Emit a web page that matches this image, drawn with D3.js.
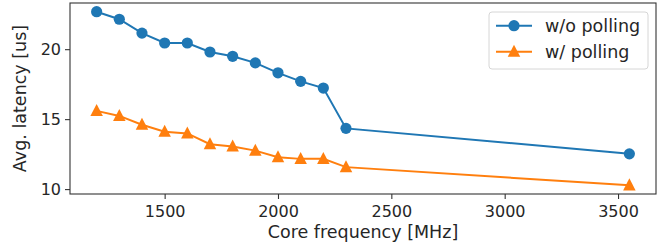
<!DOCTYPE html>
<html>
<head>
<meta charset="utf-8">
<script src="https://cdn.jsdelivr.net/npm/d3@7"></script>
<style>
    body { margin: 0; background: #fff; }
    svg { display: block; }
    text { font-family: "DejaVu Sans", sans-serif; fill: #262626; }
</style>
</head>
<body>
<svg id="chart" width="662" height="248"></svg>
<script>
// values
var freqs = [1200, 1300, 1400, 1500, 1600, 1700, 1800, 1900, 2000, 2100, 2200, 2300, 3550];
var noPolling = [22.68, 22.14, 21.15, 20.44, 20.44, 19.80, 19.49, 19.02, 18.31, 17.70, 17.22, 14.34, 12.52];
var withPolling = [15.59, 15.23, 14.60, 14.10, 13.98, 13.21, 13.04, 12.75, 12.28, 12.16, 12.16, 11.57, 10.27];
var seriesNames = ['w/o polling', 'w/ polling'];
var xTicks = [1500, 2000, 2500, 3000, 3500];
var yTicks = [10, 15, 20];

var svg = d3.select('#chart');
var plotLeft = 70, plotRight = 656, plotTop = 3, plotBottom = 194;
var tickFont = 16;
var labelFont = 17.5;

// matplotlib style 5% margins
var pad = function(ext)
{
    var d = (ext[1] - ext[0]) * 0.05;
    return [ext[0] - d, ext[1] + d];
};

var x = d3.scaleLinear().domain(pad(d3.extent(freqs))).range([plotLeft, plotRight]);
var y = d3.scaleLinear().domain(pad(d3.extent(noPolling.concat(withPolling)))).range([plotBottom, plotTop]);

var series = [
    { name: seriesNames[0], values: noPolling, color: '#1f77b4', marker: 'circle' },
    { name: seriesNames[1], values: withPolling, color: '#ff7f0e', marker: 'triangle' }
];

var xAxis = svg.append('g')
    .attr('transform', 'translate(0,' + plotBottom + ')')
    .call(d3.axisBottom(x).tickValues(xTicks).tickSize(5).tickPadding(7).tickFormat(d3.format('d')));
var yAxis = svg.append('g')
    .attr('transform', 'translate(' + plotLeft + ',0)')
    .call(d3.axisLeft(y).tickValues(yTicks).tickSize(5).tickPadding(4).tickFormat(d3.format('d')));

[xAxis, yAxis].forEach(function(ax)
{
    ax.select('.domain').remove();
    ax.selectAll('line').attr('stroke', '#333').attr('stroke-width', 1.1);
    ax.selectAll('text').attr('font-size', tickFont).attr('font-family', null).style('fill', '#262626');
});

// frame
svg.append('rect')
    .attr('x', plotLeft).attr('y', plotTop)
    .attr('width', plotRight - plotLeft).attr('height', plotBottom - plotTop)
    .attr('fill', 'none').attr('stroke', '#333').attr('stroke-width', 1.1);

var line = d3.line()
    .x(function(d) { return x(d[0]); })
    .y(function(d) { return y(d[1]); });

var triangle = function(cx, cy, s)
{
    var h = s * 0.9;
    return 'M' + cx + ',' + (cy - h * 0.62) + 'L' + (cx + s / 2) + ',' + (cy + h * 0.45) + 'L' + (cx - s / 2) + ',' + (cy + h * 0.45) + 'Z';
};

var drawMarker = function(g, s, cx, cy)
{
    if(s.marker == 'circle')
    {
        g.append('circle').attr('cx', cx).attr('cy', cy).attr('r', 5.6).attr('fill', s.color);
    }
    else
    {
        g.append('path').attr('d', triangle(cx, cy, 12.5)).attr('fill', s.color);
    }
};

series.forEach(function(s)
{
    var pts = freqs.map(function(f, i) { return [f, s.values[i]]; });
    var g = svg.append('g');
    g.append('path')
        .attr('d', line(pts))
        .attr('fill', 'none')
        .attr('stroke', s.color)
        .attr('stroke-width', 2);
    pts.forEach(function(p)
    {
        drawMarker(g, s, x(p[0]), y(p[1]));
    });
});

// axis labels
svg.append('text')
    .attr('x', (plotLeft + plotRight) / 2)
    .attr('y', 238)
    .attr('text-anchor', 'middle')
    .attr('font-size', labelFont)
    .text('Core frequency [MHz]');

svg.append('text')
    .attr('transform', 'translate(26,' + ((plotTop + plotBottom) / 2) + ') rotate(-90)')
    .attr('text-anchor', 'middle')
    .attr('font-size', labelFont)
    .text('Avg. latency [us]');

// legend
var legend = svg.append('g');
legend.append('rect')
    .attr('x', 489).attr('y', 12)
    .attr('width', 159).attr('height', 57)
    .attr('rx', 3).attr('ry', 3)
    .attr('fill', '#fff').attr('fill-opacity', 0.8)
    .attr('stroke', '#d6d6d6').attr('stroke-width', 1);

series.forEach(function(s, i)
{
    var ly = 25.7 + i * 26;
    legend.append('line')
        .attr('x1', 496).attr('x2', 532)
        .attr('y1', ly).attr('y2', ly)
        .attr('stroke', s.color).attr('stroke-width', 2);
    drawMarker(legend, s, 514, ly);
    legend.append('text')
        .attr('x', 545).attr('y', ly)
        .attr('dy', '0.35em')
        .attr('font-size', labelFont)
        .text(s.name);
});
</script>
</body>
</html>
